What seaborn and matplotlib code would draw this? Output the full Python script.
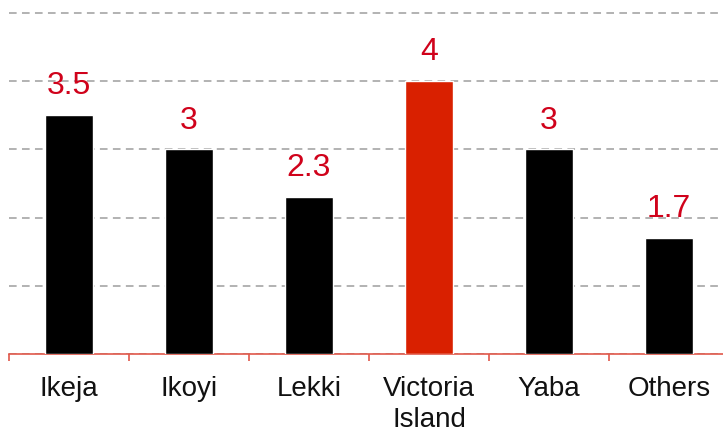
import matplotlib
matplotlib.use("Agg")
import matplotlib.pyplot as plt
import seaborn as sns
import numpy as np

# datos del grafico
zonas = ["Ikeja", "Ikoyi", "Lekki", "Victoria\nIsland", "Yaba", "Others"]
valores = [3.5, 3, 2.3, 4, 3, 1.7]
etiquetas = ["3.5", "3", "2.3", "4", "3", "1.7"]
colores = ["#000000", "#000000", "#000000", "#d92000", "#000000", "#000000"]

sns.set_style("white")
plt.rcParams["font.family"] = ["Liberation Sans", "DejaVu Sans"]

rojo_eje = "#e0584a"
rojo_txt = "#d0021b"

fig = plt.figure(figsize=(7.23, 4.33), dpi=100)
ax = fig.add_axes([9 / 723, 79 / 433, 720 / 723, 354 / 433])

sns.barplot(x=zonas, y=valores, hue=zonas, palette=colores, legend=False,
            width=0.4, ax=ax, saturation=1, zorder=3)

ax.set_xlim(-0.5, 5.5)
ax.set_ylim(0, 5.19)
ax.set_yticks([0, 1, 2, 3, 4, 5])
ax.set_yticklabels([])
ax.tick_params(axis="y", length=0)
ax.yaxis.grid(True, color="#9e9e9e", linestyle=(0, (5, 3.5)), linewidth=1.1, zorder=0)
ax.set_axisbelow(True)

# ejes: solo linea inferior en rojo
for s in ["top", "left", "right"]:
    ax.spines[s].set_visible(False)
ax.spines["bottom"].set_color(rojo_eje)
ax.spines["bottom"].set_linewidth(1.2)

ax.set_xticks(np.arange(len(zonas)))
ax.set_xticklabels(zonas, fontsize=20, color="#111111", linespacing=1.25)
ax.set_xticks(np.arange(-0.5, len(zonas), 1), minor=True)
ax.tick_params(axis="x", which="major", bottom=True, length=0, pad=16)
ax.tick_params(axis="x", which="minor", bottom=True, length=5, width=1.2,
               color=rojo_eje, direction="out")
ax.set_xlabel("")
ax.set_ylabel("")

for i, (v, t) in enumerate(zip(valores, etiquetas)):
    ax.annotate(t, (i, v), xytext=(0, 15), textcoords="offset points",
                ha="center", va="baseline", fontsize=23, color=rojo_txt)

fig.savefig("out.png", dpi=100)
